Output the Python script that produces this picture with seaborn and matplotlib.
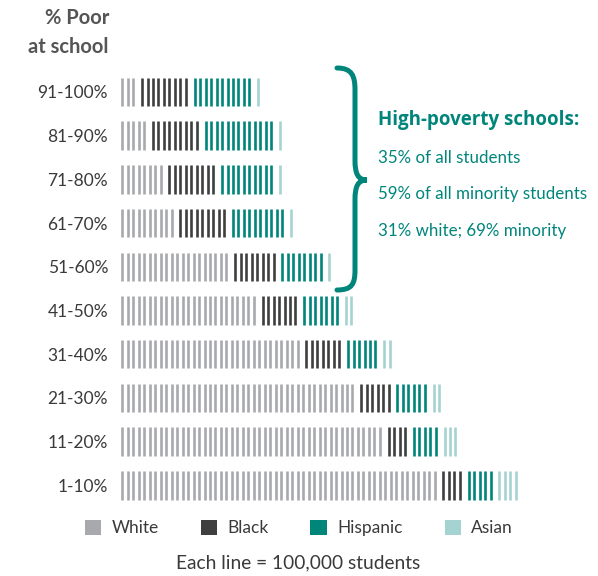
import matplotlib
matplotlib.use("Agg")
import matplotlib.pyplot as plt
from matplotlib.patches import Patch, PathPatch
from matplotlib.path import Path
import seaborn as sns
import pandas as pd

# ---- data (each line = 100,000 students) ----
poverty_levels = ["91-100%", "81-90%", "71-80%", "61-70%", "51-60%",
                  "41-50%", "31-40%", "21-30%", "11-20%", "1-10%"]
groups = ["White", "Black", "Hispanic", "Asian"]
white = [3, 5, 8, 10, 20, 25, 33, 43, 48, 58]
black = [9, 9, 9, 9, 8, 7, 7, 6, 4, 4]
hispanic = [11, 13, 10, 10, 8, 7, 6, 6, 5, 5]
asian = [1, 1, 1, 1, 1, 2, 2, 2, 3, 4]
colors = ["#a8a9ad", "#3f3f3f", "#00857b", "#a5d3d1"]
teal = "#00857b"
note_lines = ["35% of all students", "59% of all minority students",
              "31% white; 69% minority"]

W, H = 598, 576
sns.set_theme(style="white")
plt.rcParams["font.family"] = ["Lato", "DejaVu Sans"]

fig = plt.figure(figsize=(W / 100, H / 100), dpi=100)

def fx(px):
    return px / W

def fy(py):
    return 1 - py / H

# build one record per line
GAP = 0.6
recs = []
counts = dict(zip(groups, [white, black, hispanic, asian]))
for ri, lvl in enumerate(poverty_levels):
    pos = 0.0
    for g in groups:
        for _ in range(counts[g][ri]):
            recs.append({"x": pos, "level": ri, "group": g})
            pos += 1
        pos += GAP
df = pd.DataFrame(recs)

pitch = 5.48
row_pitch = 43.7
ax_left_px, ax_right_px = 115, 598
top_px = 92 - row_pitch / 2
bot_px = top_px + row_pitch * len(poverty_levels)
ax = fig.add_axes([fx(ax_left_px), fy(bot_px), (ax_right_px - ax_left_px) / W,
                   (bot_px - top_px) / H])

sns.scatterplot(data=df, x="x", y="level", hue="group", hue_order=groups,
                palette=colors, marker="|", s=20.5 ** 2, linewidth=1.9,
                legend=False, ax=ax)

x0 = -(122.3 - ax_left_px) / pitch
ax.set_xlim(x0, x0 + (ax_right_px - ax_left_px) / pitch)
ax.set_ylim(len(poverty_levels) - 0.5, -0.5)
ax.set_yticks(range(len(poverty_levels)))
ax.set_yticklabels(poverty_levels, fontsize=12.5, color="#3a3a3a")
ax.tick_params(axis="y", length=0, pad=5)
ax.set_xticks([])
ax.set_xlabel("")
ax.set_ylabel("")
for sp in ax.spines.values():
    sp.set_visible(False)
ax.set_facecolor("none")

# header
fig.text(fx(109), fy(18), "% Poor", ha="right", va="center", fontsize=14.5,
         fontweight="bold", color="#555555")
fig.text(fx(109), fy(47), "at school", ha="right", va="center", fontsize=14.5,
         fontweight="bold", color="#555555")

# curly brace
pts = [(337, 68), (352, 68), (355, 76), (355, 90),
       (355, 160),
       (355, 174), (358, 180), (367, 180),
       (358, 180), (355, 186), (355, 200),
       (355, 270),
       (355, 284), (352, 290), (337, 290)]
codes = [Path.MOVETO, Path.CURVE4, Path.CURVE4, Path.CURVE4,
         Path.LINETO,
         Path.CURVE4, Path.CURVE4, Path.CURVE4,
         Path.CURVE4, Path.CURVE4, Path.CURVE4,
         Path.LINETO,
         Path.CURVE4, Path.CURVE4, Path.CURVE4]
brace = Path([(fx(a), fy(b)) for a, b in pts], codes)
fig.add_artist(PathPatch(brace, transform=fig.transFigure, fill=False,
                         edgecolor=teal, linewidth=3.6, capstyle="round"))

fig.text(fx(378), fy(120), "High-poverty schools:", ha="left", va="center",
         fontsize=13.5, fontweight="bold", color=teal,
         family=["Open Sans", "DejaVu Sans"])
for yy, t in zip([158, 194, 231], note_lines):
    fig.text(fx(378), fy(yy), t, ha="left", va="center", fontsize=12.2,
             color=teal)

# legend
handles = [Patch(facecolor=c, edgecolor="none", label=g)
           for g, c in zip(groups, colors)]
fig.legend(handles=handles, loc="center", bbox_to_anchor=(fx(299), fy(528)),
           ncol=4, frameon=False, fontsize=12.5, handlelength=0.95,
           handleheight=0.95, handletextpad=0.6, columnspacing=2.4,
           labelcolor="#3a3a3a")
fig.text(fx(298), fy(563), "Each line = 100,000 students", ha="center",
         va="center", fontsize=13.8, color="#3a3a3a")

fig.savefig("out.png", dpi=100)
